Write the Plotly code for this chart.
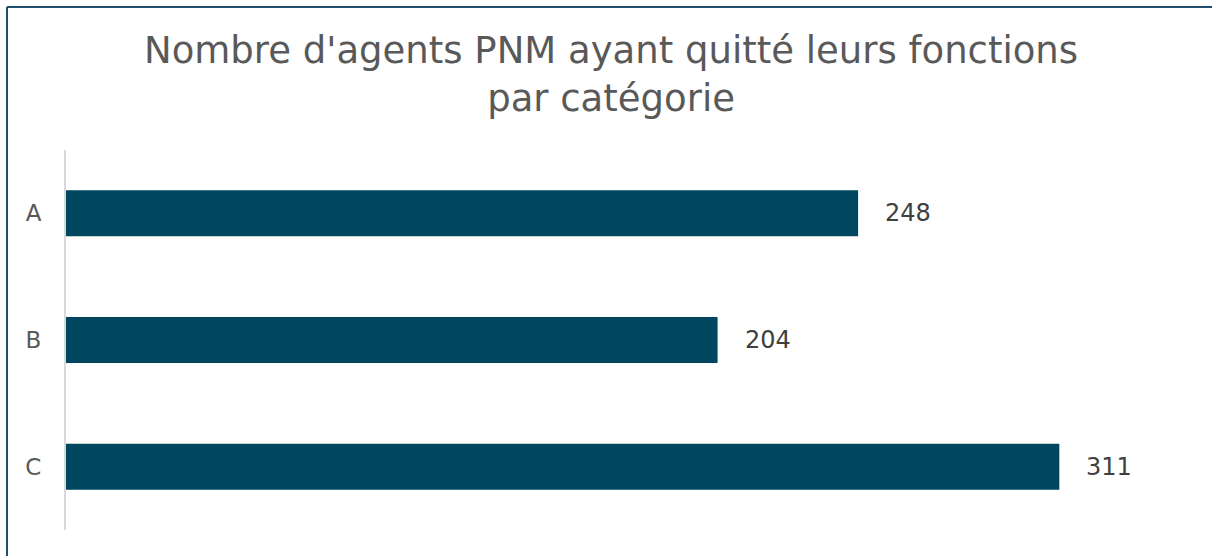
import plotly.graph_objects as go

categories = ["A", "B", "C"]
values = [248, 204, 311]
title_text = "Nombre d'agents PNM ayant quitté leurs fonctions<br>par catégorie"

W, H = 1212, 556
L, R, T, B = 66, 32, 150, 26
px_per_unit = 3.194
plot_w = W - L - R
plot_h = H - T - B
xmax = plot_w / px_per_unit


def px_x(px):
    return (px - L) / plot_w


def px_y(py):
    return 1 - (py - T) / plot_h


fig = go.Figure()
fig.add_trace(go.Bar(
    y=categories, x=values, orientation="h",
    marker=dict(color="#00465F", line=dict(width=0)),
    width=0.363, hoverinfo="skip",
))
for c, v in zip(categories, values):
    fig.add_annotation(x=v, y=c, text=str(v), xref="x", yref="y",
                       xanchor="left", yanchor="middle", xshift=25, showarrow=False,
                       font=dict(family="DejaVu Sans", size=24, color="#404040"))

# title
fig.add_annotation(text=title_text, xref="paper", yref="paper",
                   x=px_x(611), y=px_y(27), xanchor="center", yanchor="top",
                   showarrow=False, align="center",
                   font=dict(family="DejaVu Sans", size=37, color="#595959"))

# frame border (cropped screenshot)
fig.add_shape(type="line", xref="paper", yref="paper",
              x0=px_x(7), x1=px_x(W + 10), y0=px_y(7), y1=px_y(7),
              line=dict(color="#1F4E6E", width=2))
fig.add_shape(type="line", xref="paper", yref="paper",
              x0=px_x(7), x1=px_x(7), y0=px_y(7), y1=px_y(H + 10),
              line=dict(color="#1F4E6E", width=2))

fig.update_layout(
    width=W, height=H,
    margin=dict(l=L, r=R, t=T, b=B),
    paper_bgcolor="white", plot_bgcolor="white",
    showlegend=False,
    xaxis=dict(range=[0, xmax], visible=False, fixedrange=True),
    yaxis=dict(autorange="reversed", showline=True, linecolor="#D9D9D9", linewidth=2,
               ticks="", ticklabelstandoff=18,
               tickfont=dict(family="DejaVu Sans", size=23, color="#595959"),
               showgrid=False, zeroline=False, fixedrange=True),
)
fig.write_html("out.html", config={"displayModeBar": False},
               post_script="document.body.style.margin='0px';")
